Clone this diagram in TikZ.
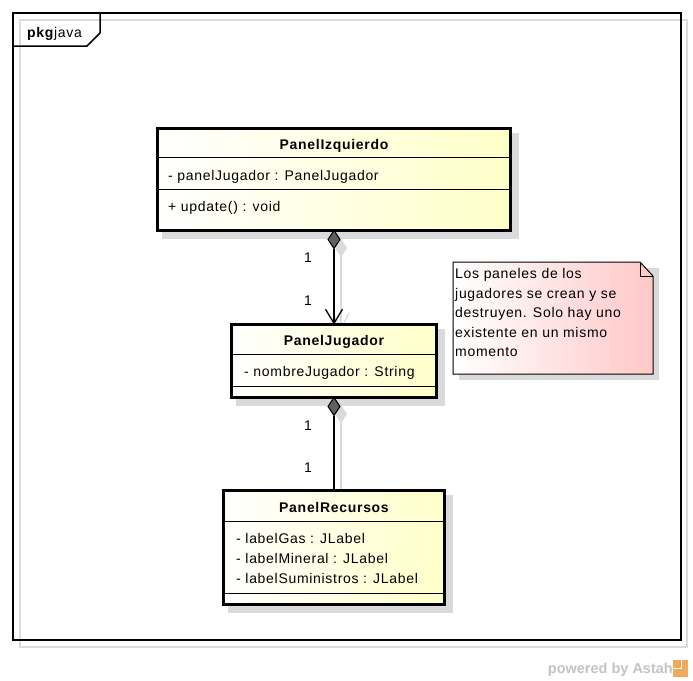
\documentclass[tikz,border=0pt]{standalone}
\usepackage{fontspec}
\setmainfont{Liberation Sans}[LetterSpace=5]
\newfontfamily\plainsans{Liberation Sans}
\usetikzlibrary{calc,arrows.meta}
\definecolor{clsy}{RGB}{255,255,200}
\definecolor{notepink}{RGB}{255,200,200}
\definecolor{shgray}{RGB}{218,218,218}
\definecolor{framegray}{RGB}{220,220,220}
\definecolor{diagray}{RGB}{95,95,95}
\definecolor{astahgray}{RGB}{195,195,195}
\definecolor{astahor}{RGB}{240,170,90}
\newcommand\dfont{\fontsize{14}{19.5}\selectfont}
\tikzset{
  clsbox/.style={draw=black,line width=3pt,left color=white,right color=clsy,inner sep=0pt,outer sep=0pt},
  sepline/.style={line width=1.3pt,draw=black},
  ttl/.style={font=\dfont\bfseries,anchor=base,inner sep=0pt},
  attr/.style={font=\dfont,anchor=base west,inner sep=0pt},
  mult/.style={font=\dfont,anchor=base,inner sep=0pt},
  conn/.style={line width=1.3pt,draw=black},
  connsh/.style={line width=1.3pt,draw=shgray},
}
\begin{document}
\begin{tikzpicture}[x=1pt,y=-1pt,font=\dfont]
\useasboundingbox (0,0) rectangle (693,680);
% package frame
\draw[framegray,line width=1.3pt] (20,20) rectangle (687,647);
\draw[black,line width=1.5pt] (13,13) rectangle (681,640);
\draw[black,line width=1.5pt] (13,46) -- (87,46) -- (100,33) -- (100,13);
\node[anchor=base west,inner sep=0pt,font=\dfont] (pkg) at (27,37) {\textbf{pkg}java};

% shadows of classes
\fill[shgray] (162,133) rectangle (519,239);
\fill[shgray] (236,329) rectangle (445,406);
\fill[shgray] (228,495) rectangle (453,613);
% note shadow
\fill[shgray] (459,268) rectangle (659,380);

% connector shadows
\draw[connsh] (341,256) -- (341,329);
\draw[connsh] (333,313) -- (341,329) -- (349,313);
\fill[shgray] (341,239) -- (347,248) -- (341,257) -- (335,248) -- cycle;
\draw[connsh] (341,422) -- (341,495);
\fill[shgray] (341,405) -- (347,414) -- (341,423) -- (335,414) -- cycle;

% classes
\node[clsbox,minimum width=353pt,minimum height=102pt] (iz) at (334,179.5) {};
\draw[sepline] ($(iz.north west)+(0,29)$) -- ($(iz.north east)+(0,29)$);
\draw[sepline] ($(iz.north west)+(0,61)$) -- ($(iz.north east)+(0,61)$);
\node[ttl] (izt) at (334,149) {PanelIzquierdo};
\node[attr] (iza) at (168,180) {- panelJugador : PanelJugador};
\node[attr] (izm) at (168,211) {+ update() : void};

\node[clsbox,minimum width=205pt,minimum height=73pt] (jug) at (334,361) {};
\draw[sepline] ($(jug.north west)+(0,30)$) -- ($(jug.north east)+(0,30)$);
\draw[sepline] ($(jug.north west)+(0,62)$) -- ($(jug.north east)+(0,62)$);
\node[ttl] (jugt) at (334,345) {PanelJugador};
\node[attr] (juga) at (244,376) {- nombreJugador : String};

\node[clsbox,minimum width=221pt,minimum height=114pt] (rec) at (334,547.5) {};
\draw[sepline] ($(rec.north west)+(0,31)$) -- ($(rec.north east)+(0,31)$);
\draw[sepline] ($(rec.north west)+(0,103)$) -- ($(rec.north east)+(0,103)$);
\node[ttl] (rect) at (334,512) {PanelRecursos};
\node[attr] (reca) at (236,543) {- labelGas : JLabel};
\node[attr] (recb) at (236,563) {- labelMineral : JLabel};
\node[attr] (recc) at (236,583) {- labelSuministros : JLabel};

% composition PanelIzquierdo -> PanelJugador
\coordinate (izd) at ($(iz.south)+(0,18)$);
\draw[conn,-{Straight Barb[length=14pt,width=17pt,line width=1.3pt]}] (izd) -- (jug.north);
\draw[line width=1pt,black,fill=diagray] (iz.south) -- ++(6,9) -- (izd) -- ++(-6,-9) -- cycle;
\node[mult] (m1) at (308,262) {1};
\node[mult] (m2) at (308,305) {1};

% composition PanelJugador -> PanelRecursos
\coordinate (jugd) at ($(jug.south)+(0,18)$);
\draw[conn] (jugd) -- (rec.north);
\draw[line width=1pt,black,fill=diagray] (jug.south) -- ++(6,9) -- (jugd) -- ++(-6,-9) -- cycle;
\node[mult] (m3) at (308,430) {1};
\node[mult] (m4) at (308,472) {1};

% note
\coordinate (nA) at (453,262);
\coordinate (nB) at (640,262);
\coordinate (nC) at (653,276);
\coordinate (nD) at (653,374);
\coordinate (nE) at (453,374);
\shade[left color=white,right color=notepink] (nA) -- (nB) -- (nC) -- (nD) -- (nE) -- cycle;
\draw[black,line width=1pt] (nA) -- (nB) -- (nC) -- (nD) -- (nE) -- cycle;
\draw[black,line width=1pt] (nB) -- (640,276) -- (nC);
\node[anchor=north west,align=left,inner sep=0pt,font=\dfont] (note) at (455,268.5)
  {Los paneles de los\\jugadores se crean y se\\destruyen. Solo hay uno\\existente en un mismo\\momento};

% powered by Astah
\node[anchor=base east,inner sep=0pt,text=astahgray,font=\plainsans\fontsize{14.5}{16}\selectfont\bfseries] (astah) at (673,673) {powered by Astah};
\fill[astahor] (673,660) rectangle (688,677);
\fill[white] (680.5,660) rectangle (681.5,668);
\fill[white] (673,668) rectangle (681.5,669);
\end{tikzpicture}
\end{document}
